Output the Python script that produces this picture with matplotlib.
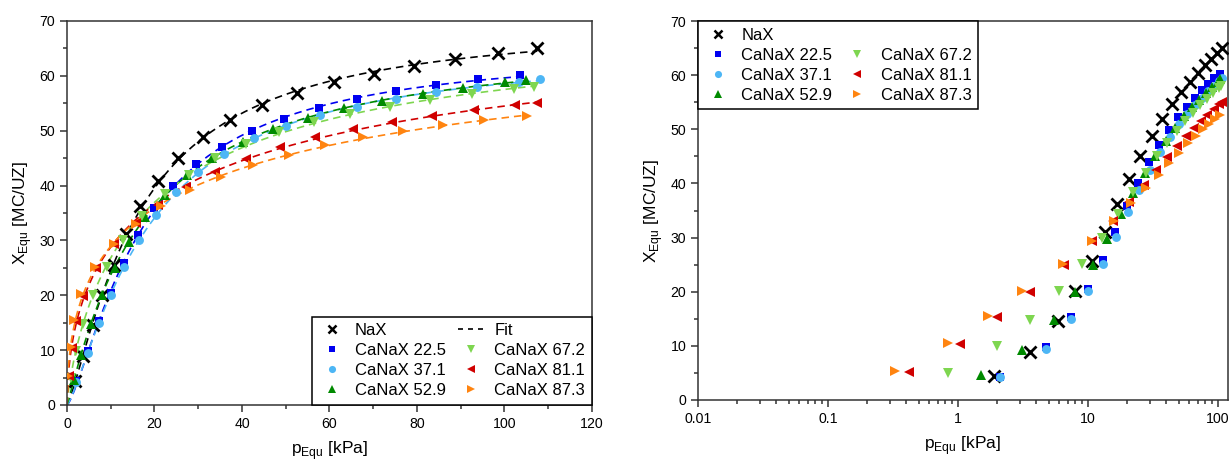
import numpy as np
import matplotlib
matplotlib.use("Agg")
import matplotlib.pyplot as plt
from matplotlib.ticker import MultipleLocator, LogLocator, FixedLocator, FixedFormatter, NullFormatter
from matplotlib.lines import Line2D

plt.rcParams['font.family'] = ['Liberation Sans', 'DejaVu Sans']
plt.rcParams['mathtext.fontset'] = 'custom'
plt.rcParams['mathtext.rm'] = 'Liberation Sans'

# equilibrium loading vs pressure, one pair of arrays per sample
p_nax = [1.9, 3.6, 5.9, 8.0, 10.7, 13.5, 16.8, 20.7, 25.3, 31.1, 37.3, 44.5, 52.5, 61.1, 70.2, 79.4, 88.8, 98.6, 107.5]
x_nax = [4.4, 8.9, 14.5, 20.1, 25.6, 31.1, 36.2, 40.8, 45.1, 48.8, 51.9, 54.6, 56.8, 58.8, 60.4, 61.8, 63.0, 64.1, 65.0]

p_225 = [2.1, 4.8, 7.4, 10.1, 13.0, 16.2, 20.0, 24.3, 29.6, 35.4, 42.3, 49.7, 57.7, 66.4, 75.3, 84.3, 94.0, 103.6]
x_225 = [4.3, 9.8, 15.3, 20.5, 25.9, 31.0, 35.9, 40.0, 43.9, 47.1, 49.9, 52.2, 54.1, 55.8, 57.2, 58.4, 59.4, 60.2]

p_371 = [2.1, 4.8, 7.4, 10.1, 13.1, 16.5, 20.3, 24.9, 30.0, 36.0, 42.7, 50.0, 57.9, 66.4, 75.2, 84.3, 93.8, 103.3, 108.2]
x_371 = [4.2, 9.5, 14.9, 20.1, 25.2, 30.1, 34.7, 38.8, 42.5, 45.8, 48.6, 50.9, 52.8, 54.4, 55.8, 57.1, 58.0, 58.9, 59.4]

p_529 = [1.5, 3.1, 5.5, 8.0, 10.9, 14.1, 17.9, 22.3, 27.5, 33.2, 40.2, 47.2, 55.0, 63.3, 72.1, 81.3, 90.5, 100.1, 104.9]
x_529 = [4.6, 9.2, 14.7, 20.0, 24.9, 29.8, 34.3, 38.3, 41.9, 45.0, 47.9, 50.3, 52.4, 54.1, 55.5, 56.7, 57.8, 58.8, 59.2]

p_672 = [0.84, 2.0, 3.6, 6.0, 9.1, 12.9, 17.1, 22.3, 27.9, 33.9, 41.0, 48.5, 56.5, 64.8, 73.8, 83.0, 92.5, 102.1, 106.8]
x_672 = [4.9, 9.9, 14.7, 20.1, 25.2, 30.0, 34.4, 38.4, 41.9, 45.0, 47.5, 49.7, 51.5, 53.0, 54.4, 55.6, 56.7, 57.6, 58.0]

p_811 = [0.42, 1.04, 2.0, 3.6, 6.6, 10.8, 15.7, 20.8, 27.3, 33.8, 41.0, 48.7, 56.8, 65.4, 74.3, 83.5, 93.1, 102.3, 107.5]
x_811 = [5.2, 10.4, 15.3, 19.9, 24.9, 29.4, 33.1, 36.5, 39.7, 42.5, 44.8, 47.0, 48.8, 50.3, 51.6, 52.7, 53.8, 54.7, 55.0]

p_873 = [0.33, 0.84, 1.7, 3.1, 6.4, 10.8, 15.8, 21.5, 28.1, 35.1, 42.6, 50.8, 59.0, 67.7, 76.8, 85.9, 95.4, 105.1]
x_873 = [5.35, 10.5, 15.5, 20.2, 25.2, 29.3, 33.0, 36.3, 39.1, 41.5, 43.8, 45.6, 47.4, 48.8, 50.0, 51.0, 51.9, 52.7]

labels = ["NaX", "CaNaX 22.5", "CaNaX 37.1", "CaNaX 52.9", "CaNaX 67.2", "CaNaX 81.1", "CaNaX 87.3"]
pressures = [p_nax, p_225, p_371, p_529, p_672, p_811, p_873]
loadings = [x_nax, x_225, x_371, x_529, x_672, x_811, x_873]
colors = ["black", "#0000f0", "#4db6f5", "#008a00", "#7ed650", "#d00000", "#ff8410"]
markers = ["x", "s", "o", "^", "v", "<", ">"]
msizes = [8, 5.6, 6.4, 7.5, 7.5, 7.5, 7.5]


def sips_fit(p, x):
    # brute force Sips isotherm: X = qm*(b p)^n / (1 + (b p)^n)
    p = np.asarray(p)
    x = np.asarray(x)
    best = None
    for n in np.linspace(0.5, 1.6, 111):
        for b in np.logspace(-4, 0, 300):
            f = (b * p) ** n / (1 + (b * p) ** n)
            qm = f @ x / (f @ f)
            err = np.sum((qm * f - x) ** 2)
            if best is None or err < best[0]:
                best = (err, qm, b, n)
    return best[1:]


fig = plt.figure(figsize=(12.31, 4.62), dpi=100)
ax1 = fig.add_axes([0.0544, 0.1234, 0.4265, 0.8312])
ax2 = fig.add_axes([0.567, 0.1342, 0.4305, 0.8203])

handles = []
for p, x, c, m, ms, lab in zip(pressures, loadings, colors, markers, msizes, labels):
    qm, b, n = sips_fit(p, x)
    pp = np.linspace(0, max(p), 300)
    ax1.plot(pp, qm * (b * pp) ** n / (1 + (b * pp) ** n), ls=(0, (4.5, 3)), lw=1.2, color=c, zorder=2)
    mew = 2 if m == "x" else 0
    ax1.plot(p, x, ls="none", marker=m, ms=ms, color=c, mew=mew, zorder=3)
    ax2.plot(p, x, ls="none", marker=m, ms=ms, color=c, mew=mew, zorder=3)
    handles.append(Line2D([], [], ls="none", marker=m, ms=ms * 0.8, color=c, mew=1.8 if m == "x" else 0, label=lab))

fit_handle = Line2D([], [], ls=(0, (3, 3)), lw=1.2, color="black", label="Fit")
blank = Line2D([], [], ls="none", label=" ")

for ax in (ax1, ax2):
    ax.set_ylim(0, 70)
    ax.yaxis.set_major_locator(MultipleLocator(10))
    ax.yaxis.set_minor_locator(MultipleLocator(5))
    ax.tick_params(which="both", direction="out", top=False, right=False, labelsize=10.2, width=1.1, color="#333333")
    ax.tick_params(which="major", length=5)
    ax.tick_params(which="minor", length=3)
    for s in ax.spines.values():
        s.set_linewidth(1.1)
        s.set_color("#333333")
    ax.set_xlabel(r"p$_\mathregular{Equ}$ [kPa]", fontsize=12.5, labelpad=6)
    ax.set_ylabel(r"X$_\mathregular{Equ}$ [MC/UZ]", fontsize=12.5, labelpad=4)

ax1.set_xlim(0, 120)
ax1.xaxis.set_major_locator(MultipleLocator(20))
ax1.xaxis.set_minor_locator(MultipleLocator(10))

ax2.set_xscale("log")
ax2.set_xlim(0.01, 120)
ax2.xaxis.set_major_locator(FixedLocator([0.01, 0.1, 1, 10, 100]))
ax2.xaxis.set_major_formatter(FixedFormatter(["0.01", "0.1", "1", "10", "100"]))
ax2.xaxis.set_minor_locator(LogLocator(base=10, subs=np.arange(2, 10)))
ax2.xaxis.set_minor_formatter(NullFormatter())

# two-column legends; column order fills top-down
leg_kw = dict(ncol=2, borderaxespad=0, fontsize=12, frameon=True, fancybox=False, edgecolor="black",
              framealpha=1, handlelength=1.6, columnspacing=0.7, labelspacing=0.3, handletextpad=0.6,
              borderpad=0.4)
leg1 = ax1.legend(handles=[handles[0], handles[1], handles[2], handles[3], fit_handle, handles[4], handles[5], handles[6]],
                  loc="lower right", **leg_kw)
leg1.get_frame().set_linewidth(1.1)

leg2 = ax2.legend(handles=[handles[0], handles[1], handles[2], handles[3], blank, handles[4], handles[5], handles[6]],
                  loc="upper left", **leg_kw)
leg2.get_frame().set_linewidth(1.1)

fig.savefig("out.png", dpi=100)
